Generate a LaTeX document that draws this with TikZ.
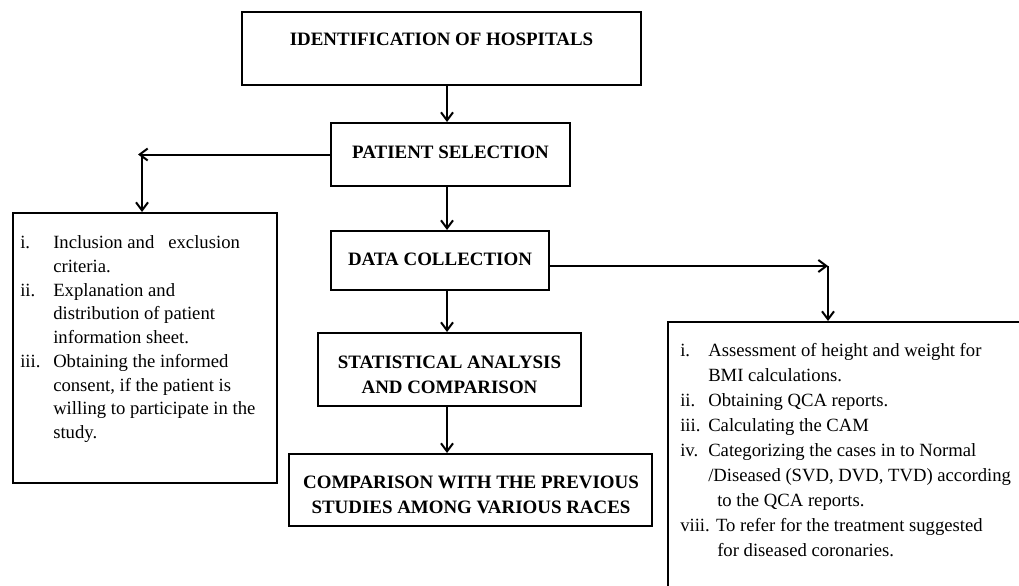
\documentclass[tikz,border=0pt]{standalone}
\usepackage{fontspec}
\setmainfont{Liberation Serif}
\usetikzlibrary{arrows.meta}
\newdimen\pxu \pxu=0.75pt
\begin{document}
\begin{tikzpicture}[x=0.75pt,y=-0.75pt,
  box/.style={draw, line width=1.5pt, inner sep=0pt},
  head/.style={font=\fontsize{14.2}{18.75}\selectfont\bfseries, align=center, inner sep=0pt},
  body/.style={font=\fontsize{14}{17.8}\selectfont, align=left, inner sep=0pt, anchor=north west},
  bodyr/.style={font=\fontsize{14}{18.75}\selectfont, align=left, inner sep=0pt, anchor=north west},
  arr/.style={line width=1.5pt, -{Straight Barb[length=6pt,width=9pt,line width=1.5pt]}}]
\useasboundingbox (0,0) rectangle (1019,585);
\clip (0,0) rectangle (1019,585);
% boxes
\node[box, minimum width=399\pxu, minimum height=73\pxu] (id) at (441.5,48.5) {};
\node[head] (idt) at (441.5,39) {IDENTIFICATION OF HOSPITALS};
\node[box, minimum width=239\pxu, minimum height=63\pxu] (ps) at (450.5,154.5) {};
\node[head] (pst) at (450.5,152) {PATIENT SELECTION};
\node[box, minimum width=218\pxu, minimum height=59\pxu] (dc) at (440,260.5) {};
\node[head] (dct) at (440,259) {DATA COLLECTION};
\node[box, minimum width=263\pxu, minimum height=73\pxu] (sa) at (449.5,369.5) {};
\node[head] (sat) at (449.5,374.5) {STATISTICAL ANALYSIS\\AND COMPARISON};
\node[box, minimum width=363\pxu, minimum height=72\pxu] (cmp) at (470.5,490) {};
\node[head] (cmpt) at (471,494.5) {COMPARISON WITH THE PREVIOUS\\STUDIES AMONG VARIOUS RACES};
\node[box, anchor=north west, minimum width=264\pxu, minimum height=270\pxu] (lb) at (12,212) {};
\node[body] (lbt) at (20,235.5) {\makebox[33\pxu][l]{i.}Inclusion and\ \ \ exclusion\\
\hspace*{33\pxu}criteria.\\
\makebox[33\pxu][l]{ii.}Explanation and\\
\hspace*{33\pxu}distribution of patient\\
\hspace*{33\pxu}information sheet.\\
\makebox[33\pxu][l]{iii.}Obtaining the informed\\
\hspace*{33\pxu}consent, if the patient is\\
\hspace*{33\pxu}willing to participate in the\\
\hspace*{33\pxu}study.};
\node[box, anchor=north west, minimum width=400\pxu, minimum height=300\pxu] (rb) at (667,321) {};
\node[bodyr] (rbt) at (680,343.5) {\makebox[28\pxu][l]{i.}Assessment of height and weight for\\
\hspace*{28\pxu}BMI calculations.\\
\makebox[28\pxu][l]{ii.}Obtaining QCA reports.\\
\makebox[28\pxu][l]{iii.}Calculating the CAM\\
\makebox[28\pxu][l]{iv.}Categorizing the cases in to Normal\\
\hspace*{28\pxu}/Diseased (SVD, DVD, TVD) according\\
\hspace*{37\pxu}to the QCA reports.\\
viii. To refer for the treatment suggested\\
\hspace*{37\pxu}for diseased coronaries.};
% connectors
\coordinate (mx) at (447,0);
\coordinate (lx) at (138,0);
\coordinate (lv) at (142,0);
\coordinate (ry) at (0,266);
\coordinate (rx) at (828,0);
\draw[arr] (id.south -| mx) -- (ps.north -| mx);
\draw[arr] (ps.south -| mx) -- (dc.north -| mx);
\draw[arr] (dc.south -| mx) -- (sa.north -| mx);
\draw[arr] (sa.south -| mx) -- (cmp.north -| mx);
\draw[arr] (ps.west) -- (ps.west -| lx);
\draw[arr] (ps.west -| lv) -- (lb.north -| lv);
\draw[arr] (dc.east |- ry) -- (rx |- ry);
\draw[arr] (rx |- ry) -- (rb.north -| rx);
\end{tikzpicture}
\end{document}
